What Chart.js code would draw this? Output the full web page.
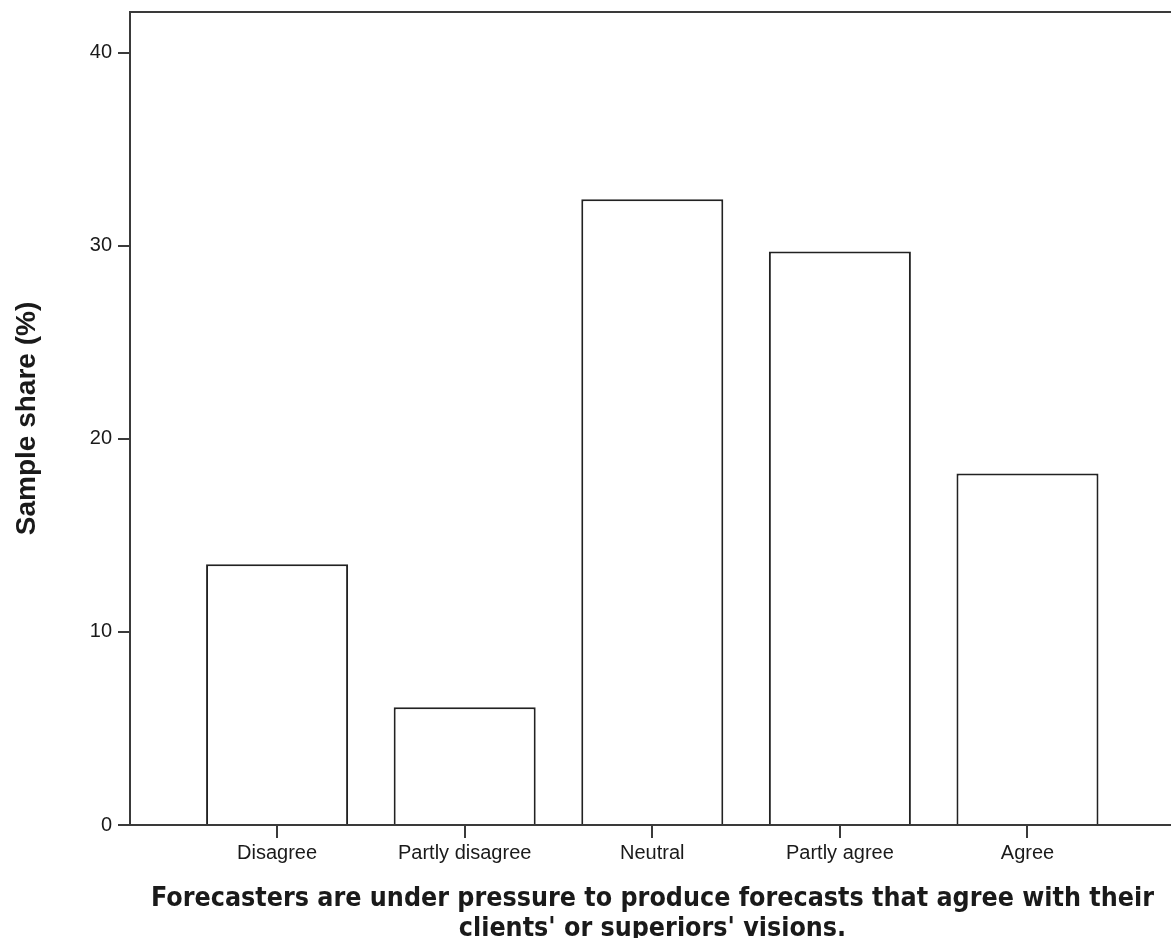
<!DOCTYPE html>
<html lang="en">
<head>
<meta charset="utf-8">
<title>Forecasters under pressure</title>
<script src="https://cdn.jsdelivr.net/npm/chart.js@4"></script>
<style>
  html, body { margin: 0; padding: 0; background: #fff; }
  #wrap { width: 1171px; height: 938px; position: relative; }
</style>
</head>
<body>
<div id="wrap"><canvas id="chart"></canvas></div>
<script>
// Values
const categories = ['Disagree', 'Partly disagree', 'Neutral', 'Partly agree', 'Agree'];
const shares = [13.5, 6.1, 32.4, 29.7, 18.2];
const yTicks = [0, 10, 20, 30, 40];
const yTitle = 'Sample share (%)';
const xTitle = [
    'Forecasters are under pressure to produce forecasts that agree with their',
    "clients' or superiors' visions."
];

// Axis ranges (the frame runs a bit past the outer bars)
const X_MIN = -0.784;
const X_MAX = 4.765;
const Y_MAX = 42.1;

const LINE = '#3a3a3a';
const TEXT = '#1a1a1a';
const SANS = '"Liberation Sans", Arial, sans-serif';

// The x title is drawn by hand so it can be squeezed like the original's narrow bold face
const xTitlePlugin = {
    id: 'xTitle',
    afterDraw(chart) {
        const ctx = chart.ctx;
        const area = chart.chartArea;
        ctx.save();
        ctx.font = 'bold 26px "DejaVu Sans", sans-serif';
        ctx.fillStyle = TEXT;
        ctx.textAlign = 'center';
        ctx.textBaseline = 'alphabetic';
        const squeeze = 1003 / ctx.measureText(xTitle[0]).width;
        const cx = (area.left + area.right) / 2 + 2;
        xTitle.forEach((line, i) => {
            ctx.save();
            ctx.translate(cx, area.bottom + 81 + i * 30);
            ctx.scale(squeeze, 1);
            ctx.fillText(line, 0, 0);
            ctx.restore();
        });
        ctx.restore();
    }
};

function createChart() {
    const ctx = document.getElementById('chart');

    new Chart(ctx, {
        type: 'bar',
        data: {
            datasets: [{
                data: shares.map((v, i) => ({ x: i, y: v })),
                backgroundColor: '#ffffff',
                borderColor: '#222222',
                borderWidth: 2,
                categoryPercentage: 1.0,
                barPercentage: 0.757,
                xAxisID: 'x',
                yAxisID: 'y'
            }]
        },
        options: {
            responsive: true,
            maintainAspectRatio: false,
            animation: false,
            layout: { padding: { top: 12, left: 0, right: 0, bottom: 0 } },
            plugins: {
                legend: { display: false },
                tooltip: { enabled: false }
            },
            scales: {
                x: {
                    type: 'linear',
                    position: 'bottom',
                    offset: false,
                    min: X_MIN,
                    max: X_MAX,
                    afterBuildTicks: scale => {
                        scale.ticks = categories.map((c, i) => ({ value: i }));
                    },
                    afterFit: scale => {
                        scale.height = 113;
                        scale.paddingLeft = 0;
                        scale.paddingRight = 0;
                    },
                    grid: {
                        display: true,
                        offset: false,
                        drawOnChartArea: false,
                        drawTicks: true,
                        tickLength: 13,
                        color: LINE,
                        lineWidth: 2
                    },
                    border: { display: true, color: LINE, width: 2 },
                    ticks: {
                        autoSkip: false,
                        maxRotation: 0,
                        padding: 3,
                        color: TEXT,
                        font: { family: SANS, size: 20 },
                        callback: value => categories[value] ?? ''
                    }
                },
                xTop: {
                    type: 'linear',
                    position: 'top',
                    offset: false,
                    min: X_MIN,
                    max: X_MAX,
                    afterFit: scale => {
                        scale.height = 0;
                        scale.paddingLeft = 0;
                        scale.paddingRight = 0;
                    },
                    grid: { display: false, drawTicks: false },
                    border: { display: true, color: LINE, width: 2 },
                    ticks: { display: false }
                },
                y: {
                    min: 0,
                    max: Y_MAX,
                    afterBuildTicks: scale => {
                        scale.ticks = yTicks.map(v => ({ value: v }));
                    },
                    afterFit: scale => {
                        scale.width = 130;
                        scale.paddingTop = 0;
                        scale.paddingBottom = 0;
                    },
                    grid: {
                        display: true,
                        drawOnChartArea: false,
                        drawTicks: true,
                        tickLength: 12,
                        color: LINE,
                        lineWidth: 2
                    },
                    border: { display: true, color: LINE, width: 2 },
                    ticks: {
                        padding: 6,
                        color: TEXT,
                        font: { family: SANS, size: 20 }
                    },
                    title: {
                        display: true,
                        text: yTitle,
                        color: TEXT,
                        font: { family: SANS, size: 28, weight: 'bold' },
                        padding: { top: 10, bottom: 0 }
                    }
                }
            }
        },
        plugins: [xTitlePlugin]
    });
}

document.addEventListener('DOMContentLoaded', createChart);
</script>
</body>
</html>
